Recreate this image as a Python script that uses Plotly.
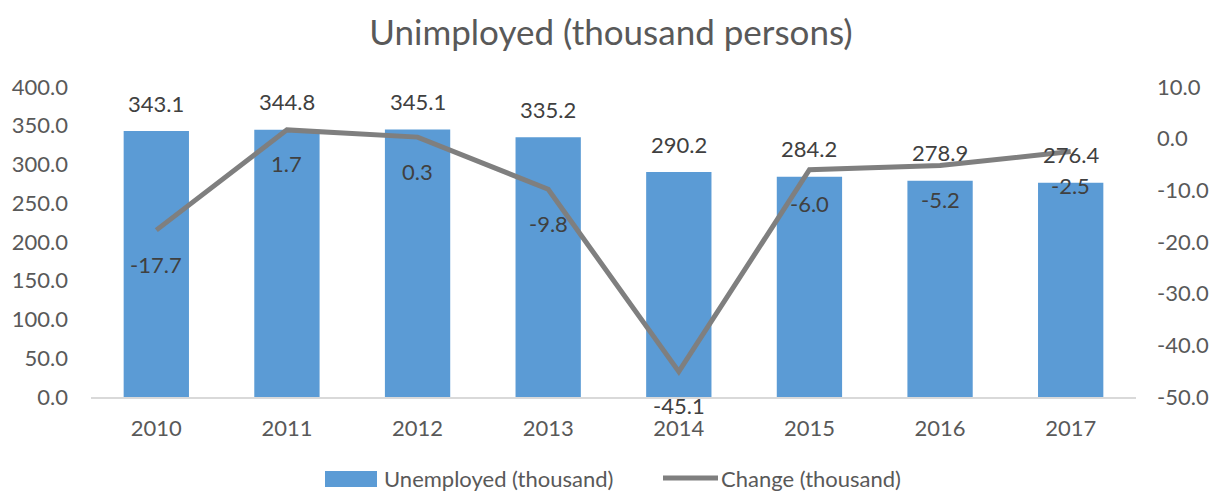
import plotly.graph_objects as go

years = ["2010", "2011", "2012", "2013", "2014", "2015", "2016", "2017"]
unemployed = [343.1, 344.8, 345.1, 335.2, 290.2, 284.2, 278.9, 276.4]
change = [-17.7, 1.7, 0.3, -9.8, -45.1, -6.0, -5.2, -2.5]
series_names = ["Unemployed (thousand)", "Change (thousand)"]
left_ticks = [0, 50, 100, 150, 200, 250, 300, 350, 400]
right_ticks = [-50, -40, -30, -20, -10, 0, 10]

FONT = "Lato"
TXT = "#595959"
LBL = "#404040"
FS = 22
W, H = 1210, 491
L, R, T, B = 91, 74, 87, 94
pw, ph = W - L - R, H - T - B


def fmt(v):
    return f"{v:.1f}"  # plain hyphen-minus like the reference


fig = go.Figure()
fig.add_trace(go.Bar(
    x=years, y=unemployed, name=series_names[0],
    marker=dict(color="#5b9bd5", line=dict(width=0)), width=0.5,
    yaxis="y", showlegend=False,
))
fig.add_trace(go.Scatter(
    x=years, y=change, name=series_names[1], mode="lines",
    line=dict(color="#7f7f7f", width=5), yaxis="y2", showlegend=False,
))

ann = []
for i, v in enumerate(unemployed):
    ann.append(dict(x=i, y=v, xref="x", yref="y", text=fmt(v), showarrow=False,
                    yshift=28, font=dict(family=FONT, size=FS, color=LBL)))
for i, v in enumerate(change):
    ann.append(dict(x=i, y=v, xref="x", yref="y2", text=fmt(v), showarrow=False,
                    yshift=-34, font=dict(family=FONT, size=FS, color=LBL)))


# manual legend, positions given in pixels -> paper (plot-area) fractions
def ppx(x):
    return (x - L) / pw


def ppy(y):
    return (H - B - y) / ph


ly = 478
shapes = [
    dict(type="rect", xref="paper", yref="paper", x0=ppx(325), x1=ppx(377),
         y0=ppy(487), y1=ppy(471), fillcolor="#5b9bd5", line=dict(width=0)),
    dict(type="line", xref="paper", yref="paper", x0=ppx(663), x1=ppx(718),
         y0=ppy(ly), y1=ppy(ly), line=dict(color="#7f7f7f", width=5)),
]
ann.append(dict(x=ppx(382), y=ppy(ly), xref="paper", yref="paper", text=series_names[0],
                showarrow=False, xanchor="left", yanchor="middle",
                font=dict(family=FONT, size=FS, color=TXT)))
ann.append(dict(x=ppx(719), y=ppy(ly), xref="paper", yref="paper", text=series_names[1],
                showarrow=False, xanchor="left", yanchor="middle",
                font=dict(family=FONT, size=FS, color=TXT)))

fig.update_layout(
    width=W, height=H,
    margin=dict(l=L, r=R, t=T, b=B, autoexpand=False),
    paper_bgcolor="white", plot_bgcolor="white",
    font=dict(family=FONT, size=FS, color=TXT),
    title=dict(text="Unimployed (thousand persons)", x=611 / W, xanchor="center",
               y=1 - 33 / H, yanchor="middle", font=dict(family=FONT, size=35, color=TXT)),
    xaxis=dict(type="category", range=[-0.5, len(years) - 0.5], autorange=False,
               showgrid=False, showline=True, linecolor="#d9d9d9", linewidth=2,
               ticks="", ticklabelstandoff=11, tickfont=dict(size=FS, color=TXT), automargin=False),
    yaxis=dict(range=[0, 400], autorange=False, tickvals=left_ticks,
               ticktext=[fmt(v) for v in left_ticks], showgrid=False, zeroline=False,
               showline=False, ticks="", ticklabelstandoff=22, tickfont=dict(size=FS, color=TXT),
               automargin=False),
    yaxis2=dict(range=[-50, 10], autorange=False, tickvals=right_ticks,
                ticktext=[fmt(v) for v in right_ticks], overlaying="y", side="right",
                showgrid=False, zeroline=False, showline=False, ticks="", ticklabelstandoff=20,
                tickfont=dict(size=FS, color=TXT), automargin=False),
    shapes=shapes,
    annotations=ann,
    showlegend=False,
)

fig.write_html("out.html")
